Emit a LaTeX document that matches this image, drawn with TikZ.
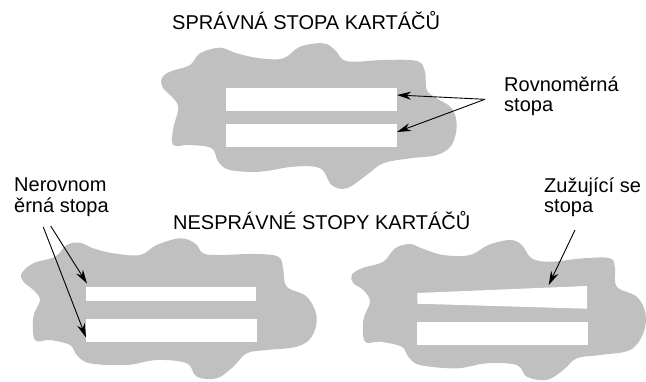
\documentclass[tikz,border=0pt]{standalone}
\usepackage{fontspec}
\setmainfont{Liberation Sans}
\usetikzlibrary{arrows.meta}
\definecolor{blobgray}{RGB}{192,192,192}
\begin{document}
\begin{tikzpicture}[x=1pt,y=-1pt,
  blob/.style={fill=blobgray,draw=none},
  bar/.style={fill=white,draw=none},
  lbl/.style={anchor=base west,inner sep=0pt,font=\fontsize{20}{20}\selectfont},
  ttl/.style={anchor=base west,inner sep=0pt,font=\fontsize{20}{20}\selectfont},
  arr/.style={-{Stealth[length=14pt,width=8pt]},line width=0.9pt,black}]
\useasboundingbox (0,0) rectangle (646,381);
% top blob
\fill[blob] plot[smooth cycle,tension=0.6] coordinates {
 (161.7,78.3) (170,71.7) (190,65) (200,53.3) (220,47.7) (236.7,53.3) (260,58.3)
 (283.3,58.3) (300,46.7) (323.3,43.3) (335,50) (343.3,60) (356.7,61.7) (383.3,60)
 (416.7,61) (425,71.7) (426.7,90) (436.7,98.3) (451.7,108.3) (456.7,125) (451.7,145)
 (436.7,155) (410,158.3) (383.3,163.3) (366.7,175) (346.7,188.3) (331.7,185) (320,168.3)
 (293.3,166.7) (260,171.7) (230,170) (218.3,161.7) (211.7,148.3) (190,145) (173.3,145)
 (173.3,128.3) (178.3,108.3) (173.3,98.3) (163.3,88.3)};
\fill[bar] (226,88.3) rectangle (396.7,111);
\fill[bar] (226,124.3) rectangle (396.7,147.3);
\coordinate (t1) at (226,88.3);
\coordinate (ra) at (397,95);
\coordinate (rb) at (397,132);
% bottom-left blob
\fill[blob] plot[smooth cycle,tension=0.6] coordinates {
 (21.7,273.3) (33.3,263.3) (55,256.7) (66.7,245) (80,242.7) (93.3,248.3) (113.3,253.3)
 (140,255) (156.7,245) (180,238.3) (195,243.3) (203.3,253.3) (220,255) (253.3,254)
 (278.3,256.7) (283.3,270) (286.7,286.7) (306.7,296.7) (316.7,316.7) (311.7,336.7)
 (296.7,346.7) (266.7,350) (246.7,353.3) (233.3,366.7) (216.7,378.3) (196.7,376.7)
 (186.7,363.3) (156.7,360) (126.7,365) (90,363.3) (76.7,355) (70,345) (50,340) (35,340)
 (33.3,316.7) (40,300) (33.3,290) (23.3,281.7)};
\fill[bar] (86,287) rectangle (256,301);
\fill[bar] (86,319.3) rectangle (257.3,341.7);
\coordinate (na) at (87,283.5);
\coordinate (nb) at (86,337.5);
% bottom-right blob
\fill[blob] plot[smooth cycle,tension=0.6] coordinates {
 (351.7,275) (361.7,268.3) (383.3,261.7) (395,248.3) (410,244) (421.7,248.3) (443.3,255)
 (470,255) (488.3,245) (510,240) (521.7,245) (531.7,258.3) (550,261.7) (583.3,258.3)
 (610,258.3) (615,268.3) (616.7,286.7) (636.7,296.7) (645.5,313.3) (643.3,333.3)
 (630,350) (600,355) (576.7,358.3) (563.3,370) (546.7,380) (526.7,376.7) (516.7,365)
 (486.7,363.3) (456.7,368.3) (420,365) (408.3,356.7) (401.7,346.7) (380,341.7) (365,341.7)
 (363.3,320) (370,301.7) (363.3,290) (353.3,283.3)};
\fill[bar] (417.3,293) -- (587,286) -- (587,308.7) -- (417.3,303.7) -- cycle;
\fill[bar] (417.3,321.7) rectangle (588.3,344.7);
\coordinate (za) at (548.7,285);
% titles
\node[ttl] (title1) at (172,29) {SPRÁVNÁ STOPA KARTÁČŮ};
\node[ttl] (title2) at (173,229) {NESPRÁVNÉ STOPY KARTÁČŮ};
% labels
\node[lbl] (rov) at (504,91) {\begin{tabular}[t]{@{}l@{}}Rovnoměrná\\stopa\end{tabular}};
\node[lbl] (ner) at (14,191.7) {\begin{tabular}[t]{@{}l@{}}Nerovnom\\ěrná stopa\end{tabular}};
\node[lbl] (zuz) at (544,192.7) {\begin{tabular}[t]{@{}l@{}}Zužující se\\stopa\end{tabular}};
% arrow tails
\coordinate (rt) at (485,99.3);
\coordinate (nt1) at (50.7,226);
\coordinate (nt2) at (43.3,227);
\coordinate (zt) at (575,230);
\draw[arr] (rt) -- (ra);
\draw[arr] (rt) -- (rb);
\draw[arr] (nt1) -- (na);
\draw[arr] (nt2) -- (nb);
\draw[arr] (zt) -- (za);
\end{tikzpicture}
\end{document}
